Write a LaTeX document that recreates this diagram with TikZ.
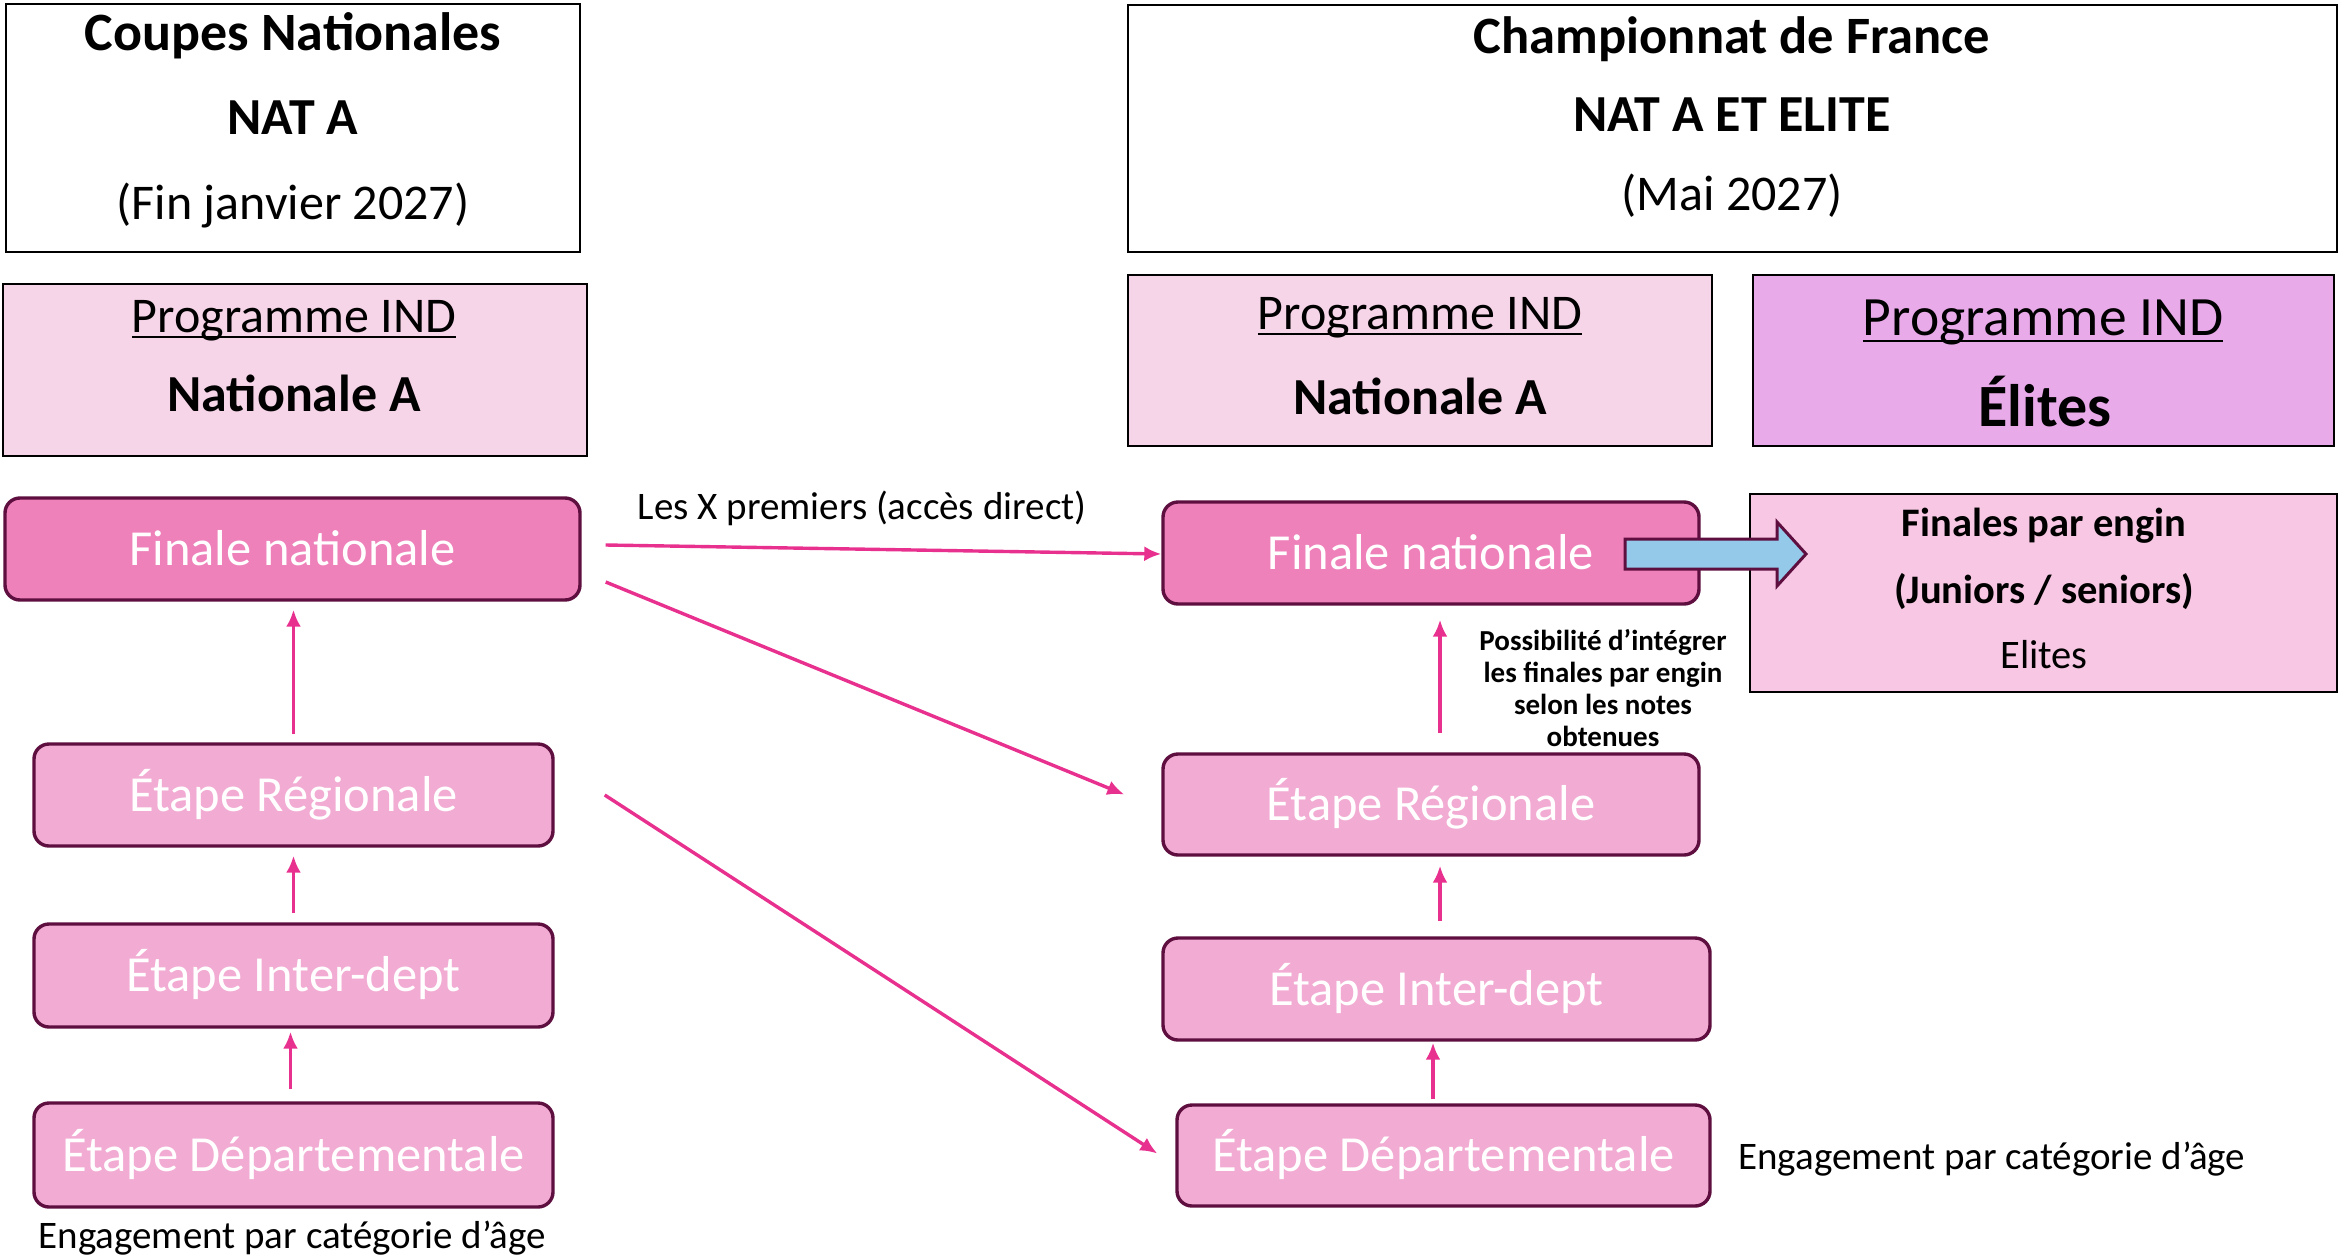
\documentclass[tikz,border=0pt]{standalone}
\usepackage{fontspec}
\setmainfont{Carlito}
\usetikzlibrary{arrows.meta,calc}
\definecolor{finalfill}{HTML}{EE80BA}
\definecolor{stagefill}{HTML}{F2ABD3}
\definecolor{nodeborder}{HTML}{5E0F3F}
\definecolor{progfill}{HTML}{F7D5E9}
\definecolor{elitefill}{HTML}{E9AAE9}
\definecolor{enginfill}{HTML}{F7C7E3}
\definecolor{bluefill}{HTML}{94C9EA}
\definecolor{arrowpink}{HTML}{E8318F}
\newcommand{\ulword}[1]{\leavevmode\setbox0=\hbox{#1}\rlap{\vrule height -0.07em depth 0.11em width \wd0}\box0}
\newcommand{\fsz}[1]{\fontsize{#1}{#1}\selectfont}
\begin{document}
\begin{tikzpicture}[x=1pt,y=-1pt,
  stage/.style={draw=nodeborder, line width=3.4pt, rounded corners=15pt, fill=stagefill, text=white, inner sep=0, font=\fsz{50.5}, text height=32pt, text depth=0pt},
  final/.style={stage, fill=finalfill},
  plainbox/.style={draw=black, line width=2pt, inner sep=0},
  txt/.style={inner sep=0, font=\fsz{#1}, text height={0.64*#1pt}, text depth=0pt},
  btxt/.style={inner sep=0, font=\bfseries\fsz{#1}, text height={0.64*#1pt}, text depth=0pt},
  flow/.style={draw=arrowpink, line width=3.4pt, -{Latex[length=17pt,width=15pt]}},
]
\useasboundingbox (0,0) rectangle (2339,1258);

% header boxes
\node[plainbox, fill=white, minimum width=574pt, minimum height=248pt] (coupes) at (293,128) {};
\node[btxt=54] (coupes1) at (293,33) {Coupes Nationales};
\node[btxt=52] (coupes2) at (293,118) {NAT A};
\node[txt=50] (coupes3) at (293,203) {(Fin janvier 2027)};

\node[plainbox, fill=white, minimum width=1209pt, minimum height=247pt] (champ) at (1732.5,128.5) {};
\node[btxt=52.5] (champ1) at (1732,37) {Championnat de France};
\node[btxt=52] (champ2) at (1732,115) {NAT A ET ELITE};
\node[txt=50] (champ3) at (1732,194) {(Mai 2027)};

% programme boxes
\node[plainbox, fill=progfill, minimum width=584pt, minimum height=172pt] (progL) at (295,370) {};
\node[txt=50] (progL1) at (294,316) {\ulword{Programme IND}};
\node[btxt=52] (progL2) at (294,395) {Nationale A};

\node[plainbox, fill=progfill, minimum width=584pt, minimum height=171pt] (progR) at (1420,360.5) {};
\node[txt=50] (progR1) at (1420,313) {\ulword{Programme IND}};
\node[btxt=52] (progR2) at (1420,398) {Nationale A};

\node[plainbox, fill=elitefill, minimum width=581pt, minimum height=171pt] (progE) at (2043.5,360.5) {};
\node[txt=55.5] (progE1) at (2043,318) {\ulword{Programme IND}};
\node[btxt=60] (progE2) at (2045,407) {Élites};

% left column
\node[final, minimum width=575pt, minimum height=102pt] (finL) at (292.5,549) {Finale nationale};
\node[stage, minimum width=519pt, minimum height=102pt] (regL) at (293.5,795) {Étape Régionale};
\node[stage, minimum width=519pt, minimum height=103pt] (intL) at (293.5,975.5) {Étape Inter-dept};
\node[stage, minimum width=519pt, minimum height=104pt] (depL) at (293.5,1155) {Étape Départementale};
\node[txt=39] (engL) at (292,1236) {Engagement par catégorie d’âge};

% right column
\node[final, minimum width=536pt, minimum height=102pt] (finR) at (1431,553) {Finale nationale};
\node[stage, minimum width=536pt, minimum height=101pt] (regR) at (1431,804.5) {Étape Régionale};
\node[stage, minimum width=547pt, minimum height=102pt] (intR) at (1436.5,989) {Étape Inter-dept};
\node[stage, minimum width=533pt, minimum height=101pt] (depR) at (1443.5,1155.5) {Étape Départementale};
\node[txt=39, anchor=west] (engR) at (1738,1157) {Engagement par catégorie d’âge};

% finales par engin
\node[plainbox, fill=enginfill, minimum width=587pt, minimum height=198pt] (engin) at (2043.5,593) {};
\node[btxt=40.5] (engin1) at (2044,524) {Finales par engin};
\node[btxt=40.5] (engin2) at (2044,591) {(Juniors / seniors)};
\node[txt=40.5] (engin3) at (2044,656) {Elites};

% block arrow
\draw[draw=nodeborder, line width=3pt, fill=bluefill, line join=miter]
  (1625,539) -- (1777,539) -- (1777,522) -- (1806,554) -- (1777,586) -- (1777,569) -- (1625,569) -- cycle;

% labels
\node[txt=39] (lesx) at (862,507) {Les X premiers (accès direct)};
\node[inner sep=0, align=center, font=\bfseries\fontsize{29}{32}\selectfont] (poss) at (1603,688)
  {Possibilité d’intégrer\\les finales par engin\\selon les notes\\obtenues};

% vertical flows left
\draw[flow] ($(regL.north)+(0,-8)$) -- ($(regL.north |- finL.south)+(0,8)$);
\draw[flow] ($(intL.north)+(0,-9)$) -- ($(intL.north |- regL.south)+(0,8)$);
\draw[flow] ($(depL.north)+(-3,-12)$) -- ($(depL.north |- intL.south)+(-3,3)$);

% vertical flows right
\draw[flow] ($(regR.north)+(9,-19)$) -- ($(regR.north |- finR.south)+(9,14)$);
\draw[flow] ($(intR.north)+(3.5,-15)$) -- ($(intR.north |- regR.south)+(3.5,9)$);
\draw[flow] ($(depR.north)+(-10.5,-4)$) -- ($(depR.north |- intR.south)+(-10.5,1)$);

% cross flows
\draw[flow] ($(finL.east)+(24,-4)$) -- ($(finR.west)+(0,1)$);
\draw[flow] ($(finL.east)+(24,33)$) -- ($(regR.west)+(-37,-10)$);
\draw[flow] ($(regL.east)+(50,0)$) -- ($(depR.west)+(-18,-2)$);
\end{tikzpicture}
\end{document}
